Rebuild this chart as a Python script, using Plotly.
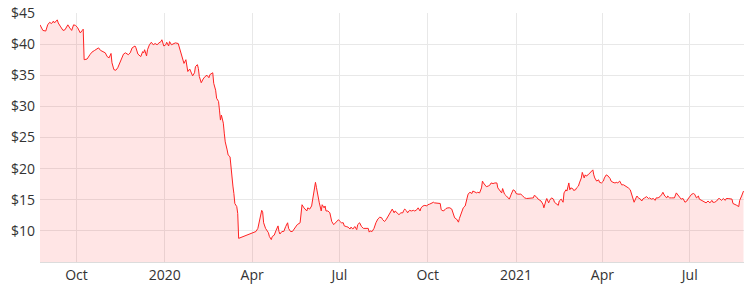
import plotly.graph_objects as go

dates_2019 = ["2019-08-24","2019-08-27","2019-08-30","2019-09-01","2019-09-03","2019-09-05","2019-09-07","2019-09-08","2019-09-11","2019-09-12","2019-09-14","2019-09-17","2019-09-19","2019-09-22","2019-09-24","2019-09-26","2019-09-28","2019-09-30","2019-10-02","2019-10-04","2019-10-05","2019-10-07","2019-10-08","2019-10-09","2019-10-10","2019-10-12","2019-10-15","2019-10-17","2019-10-20","2019-10-22","2019-10-24","2019-10-26","2019-10-28","2019-10-31","2019-11-02","2019-11-04","2019-11-06","2019-11-07","2019-11-09","2019-11-11","2019-11-13","2019-11-16","2019-11-19","2019-11-21","2019-11-24","2019-11-26","2019-11-28","2019-12-01","2019-12-02","2019-12-04","2019-12-07","2019-12-09","2019-12-10","2019-12-11","2019-12-13","2019-12-14","2019-12-16","2019-12-18","2019-12-20","2019-12-22","2019-12-24","2019-12-26","2019-12-28","2019-12-29","2019-12-31"]
prices_2019 = [43.1,42.2,42.1,43.1,43.5,43.3,43.7,43.4,43.9,43.4,42.9,42.2,42.3,43.1,42.6,42.2,43.1,43.0,42.7,42.2,41.8,42.2,42.4,37.5,37.5,37.6,38.3,38.7,39.0,39.2,39.4,39.0,38.8,38.6,38.0,37.8,38.5,37.0,35.9,35.8,36.2,37.2,38.4,38.6,38.3,38.6,39.4,39.7,39.4,38.4,38.0,38.8,38.6,39.1,38.1,39.1,39.9,40.3,39.9,40.1,39.9,40.2,40.4,40.7,39.7]

dates_2020 = ["2020-01-02","2020-01-03","2020-01-05","2020-01-06","2020-01-08","2020-01-10","2020-01-12","2020-01-15","2020-01-16","2020-01-18","2020-01-20","2020-01-21","2020-01-23","2020-01-24","2020-01-25","2020-01-27","2020-01-29","2020-01-30","2020-02-01","2020-02-02","2020-02-04","2020-02-05","2020-02-06","2020-02-08","2020-02-10","2020-02-12","2020-02-14","2020-02-16","2020-02-17","2020-02-19","2020-02-20","2020-02-21","2020-02-23","2020-02-24","2020-02-26","2020-02-27","2020-02-28","2020-02-29","2020-03-02","2020-03-03","2020-03-04","2020-03-06","2020-03-07","2020-03-09","2020-03-10","2020-03-11","2020-03-12","2020-03-13","2020-03-14","2020-03-16","2020-03-17","2020-03-18",
"2020-04-05","2020-04-07","2020-04-09","2020-04-11","2020-04-12","2020-04-13","2020-04-15","2020-04-18","2020-04-19","2020-04-21","2020-04-22","2020-04-24","2020-04-26","2020-04-28","2020-04-29","2020-04-30","2020-05-02","2020-05-04","2020-05-06","2020-05-08","2020-05-09","2020-05-11","2020-05-13","2020-05-15","2020-05-18","2020-05-21","2020-05-22","2020-05-23","2020-05-25","2020-05-26","2020-05-28","2020-05-29","2020-05-31","2020-06-02","2020-06-03","2020-06-05","2020-06-06","2020-06-07","2020-06-09","2020-06-10","2020-06-12","2020-06-13","2020-06-15","2020-06-16","2020-06-17","2020-06-19","2020-06-21","2020-06-23","2020-06-25","2020-06-27","2020-06-30","2020-07-01",
"2020-07-03","2020-07-05","2020-07-06","2020-07-08","2020-07-10","2020-07-12","2020-07-13","2020-07-15","2020-07-17","2020-07-19","2020-07-20","2020-07-22","2020-07-24","2020-07-26","2020-07-27","2020-07-29","2020-07-31","2020-08-01","2020-08-02","2020-08-04","2020-08-06","2020-08-08","2020-08-10","2020-08-12","2020-08-14","2020-08-15","2020-08-17","2020-08-19","2020-08-21","2020-08-22","2020-08-24","2020-08-25","2020-08-27","2020-08-28","2020-08-30","2020-09-01","2020-09-03","2020-09-05","2020-09-06","2020-09-07","2020-09-09","2020-09-10","2020-09-12","2020-09-14","2020-09-16","2020-09-17","2020-09-19","2020-09-21","2020-09-23","2020-09-24","2020-09-26","2020-09-28","2020-09-30",
"2020-10-01","2020-10-03","2020-10-05","2020-10-07","2020-10-08","2020-10-12","2020-10-14","2020-10-15","2020-10-17","2020-10-19","2020-10-20","2020-10-22","2020-10-24","2020-10-26","2020-10-27","2020-10-29","2020-10-31","2020-11-02","2020-11-03","2020-11-05","2020-11-07","2020-11-09","2020-11-10","2020-11-11","2020-11-12","2020-11-14","2020-11-16","2020-11-17","2020-11-19","2020-11-21","2020-11-22","2020-11-24","2020-11-26","2020-11-27","2020-11-28","2020-11-30","2020-12-01","2020-12-03","2020-12-05","2020-12-06","2020-12-08","2020-12-10","2020-12-12","2020-12-13","2020-12-15","2020-12-17","2020-12-18","2020-12-20","2020-12-22","2020-12-24","2020-12-25","2020-12-27","2020-12-29","2020-12-31"]
prices_2020 = [39.9,40.3,39.7,40.4,39.9,40.1,40.2,40.1,39.6,38.6,37.7,36.9,37.5,36.4,35.6,36.0,35.3,34.9,35.4,36.4,36.7,36.1,34.8,33.8,34.4,34.8,35.0,34.6,35.1,35.4,35.4,33.7,32.6,31.3,30.8,29.4,27.8,28.6,27.3,25.7,24.3,23.0,22.2,21.9,20.3,17.6,17.2,16.0,14.4,13.9,12.8,8.8,
9.9,10.4,11.8,13.3,13.0,11.3,10.4,9.7,9.1,8.6,9.1,9.3,10.1,10.8,9.9,9.5,9.9,9.9,10.7,11.3,10.4,9.9,9.9,10.4,11.0,11.3,12.9,14.2,13.7,13.5,13.2,13.7,13.5,14.0,15.1,16.7,17.8,17.0,15.1,14.5,13.2,14.2,13.7,14.0,13.2,13.2,12.9,11.5,11.0,11.3,11.8,11.6,
11.3,11.3,10.8,10.7,10.6,10.3,10.6,10.3,10.7,10.2,11.0,11.3,10.7,10.4,10.4,10.3,10.4,9.8,10.0,9.9,10.4,11.3,11.9,12.2,12.1,11.8,11.5,11.9,12.4,12.6,13.2,13.5,12.9,13.2,12.9,12.6,12.9,12.9,13.3,13.5,13.2,12.9,13.3,13.2,13.3,13.2,13.3,13.7,13.2,13.7,14.0,14.1,14.0,
14.2,14.3,14.5,14.6,14.5,14.5,14.4,13.4,13.2,13.4,13.6,13.7,13.7,13.5,12.9,12.1,11.9,11.4,12.0,12.9,13.7,14.0,14.6,15.6,15.9,16.2,16.0,16.4,16.2,16.1,16.2,16.1,16.9,18.0,17.7,17.3,17.1,17.2,17.4,17.7,17.6,17.7,17.7,16.9,16.5,16.1,16.8,15.9,15.6,15.3,15.1,15.9,16.6,16.4]

dates_2021 = ["2021-01-01","2021-01-03","2021-01-05","2021-01-06","2021-01-08","2021-01-10","2021-01-12","2021-01-14","2021-01-15","2021-01-17","2021-01-19","2021-01-20","2021-01-22","2021-01-24","2021-01-27","2021-01-29","2021-01-30","2021-02-01","2021-02-02","2021-02-04","2021-02-05","2021-02-07","2021-02-09","2021-02-10","2021-02-12","2021-02-14","2021-02-15","2021-02-17","2021-02-19","2021-02-20","2021-02-22","2021-02-23","2021-02-25","2021-02-26","2021-02-27","2021-03-01","2021-03-02","2021-03-04","2021-03-05","2021-03-07","2021-03-08","2021-03-10","2021-03-11","2021-03-13","2021-03-14","2021-03-15","2021-03-17","2021-03-19","2021-03-21","2021-03-22","2021-03-23","2021-03-24","2021-03-26","2021-03-28","2021-03-29","2021-03-31",
"2021-04-02","2021-04-03","2021-04-05","2021-04-07","2021-04-09","2021-04-10","2021-04-12","2021-04-14","2021-04-16","2021-04-17","2021-04-19","2021-04-21","2021-04-23","2021-04-24","2021-04-26","2021-04-28","2021-04-30","2021-05-01","2021-05-03","2021-05-04","2021-05-06","2021-05-07","2021-05-09","2021-05-10","2021-05-12","2021-05-13","2021-05-15","2021-05-17","2021-05-19","2021-05-20","2021-05-22","2021-05-24","2021-05-26","2021-05-27","2021-05-29","2021-05-31","2021-06-02","2021-06-03","2021-06-05","2021-06-07","2021-06-08","2021-06-10","2021-06-12","2021-06-14","2021-06-15","2021-06-17","2021-06-19","2021-06-21","2021-06-22","2021-06-24","2021-06-26","2021-06-28","2021-06-29",
"2021-07-01","2021-07-03","2021-07-05","2021-07-06","2021-07-08","2021-07-10","2021-07-11","2021-07-13","2021-07-15","2021-07-17","2021-07-18","2021-07-20","2021-07-22","2021-07-24","2021-07-25","2021-07-27","2021-07-29","2021-07-31","2021-08-01","2021-08-03","2021-08-05","2021-08-07","2021-08-08","2021-08-10","2021-08-12","2021-08-14","2021-08-15","2021-08-17","2021-08-19","2021-08-21","2021-08-22","2021-08-24","2021-08-26"]
prices_2021 = [16.0,15.9,15.9,15.9,15.6,15.3,15.2,15.2,15.3,15.2,15.3,15.7,15.5,15.1,14.8,14.3,13.7,14.8,15.2,14.5,14.9,15.3,15.1,14.6,14.3,14.1,14.8,15.1,14.6,16.1,16.6,16.4,17.7,16.6,16.9,16.8,16.5,16.6,16.9,17.2,17.7,18.5,19.4,18.5,19.0,18.8,19.0,19.3,19.6,19.8,19.0,18.5,18.0,18.2,17.8,17.7,
18.0,18.5,19.0,18.8,18.4,18.0,17.8,17.7,17.8,17.7,18.0,17.4,17.4,17.3,17.2,16.9,16.6,16.1,15.3,14.6,15.3,15.6,15.2,15.2,14.8,15.1,15.3,15.5,15.2,15.3,15.1,15.2,14.9,15.3,15.3,15.5,15.9,16.2,15.6,15.3,15.6,15.3,15.3,15.3,15.3,16.1,15.6,15.3,15.1,15.2,14.6,14.8,15.1,
15.6,15.9,16.0,15.9,15.3,15.6,15.1,14.9,14.8,14.6,14.5,14.8,14.5,14.9,14.6,14.6,14.8,15.2,15.2,14.9,15.2,14.9,15.2,15.2,15.1,15.1,14.4,14.3,14.1,13.9,14.9,15.6,16.4]

tick_dates = ["2019-10-01","2020-01-01","2020-04-01","2020-07-01","2020-10-01","2021-01-01","2021-04-01","2021-07-01"]
tick_labels = ["Oct","2020","Apr","Jul","Oct","2021","Apr","Jul"]
y_ticks = [10, 15, 20, 25, 30, 35, 40, 45]
y_labels = ["$10", "$15", "$20", "$25", "$30", "$35", "$40", "$45"]

dates = dates_2019 + dates_2020 + dates_2021
prices = prices_2019 + prices_2020 + prices_2021

fig = go.Figure()
fig.add_trace(go.Scatter(
    x=dates, y=prices, mode="lines",
    line=dict(color="#ff2222", width=1),
    fill="tozeroy", fillcolor="rgba(255,0,0,0.1)",
    hoverinfo="skip", showlegend=False,
))

font_family = "Open Sans, Lato, sans-serif"
fig.update_layout(
    width=748, height=294,
    margin=dict(l=40, r=4, t=13, b=32),
    paper_bgcolor="white", plot_bgcolor="white",
    font=dict(family=font_family, size=14, color="#333333"),
    xaxis=dict(
        range=["2019-08-24", "2021-08-26 12:00"],
        tickmode="array", tickvals=tick_dates, ticktext=tick_labels,
        showgrid=True, gridcolor="#e8e8e8", gridwidth=1,
        showline=True, linecolor="#dcdcdc", linewidth=1,
        ticks="", tickfont=dict(size=14, color="#333333"),
        zeroline=False,
    ),
    yaxis=dict(
        range=[5, 45],
        tickmode="array", tickvals=y_ticks, ticktext=y_labels,
        showgrid=True, gridcolor="#e8e8e8", gridwidth=1,
        showline=False, zeroline=False,
        ticks="", ticklabelstandoff=4,
        tickfont=dict(size=14, color="#333333"),
    ),
)

fig.write_html("out.html")
